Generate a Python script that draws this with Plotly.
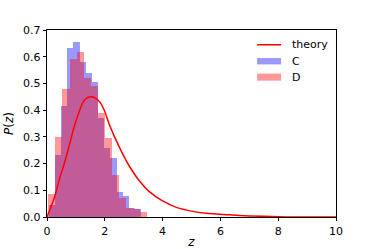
import plotly.graph_objects as go

# ---- data ----
c_edges = [0.064, 0.277, 0.490, 0.703, 0.916, 1.129, 1.342, 1.555, 1.768,
           1.981, 2.194, 2.407, 2.620, 2.833, 3.046, 3.259]
c_density = [0.045, 0.232, 0.416, 0.632, 0.654, 0.58, 0.54, 0.505, 0.37,
             0.26, 0.22, 0.095, 0.08, 0.035, 0.03]

d_edges = [0.045, 0.290, 0.535, 0.780, 1.025, 1.270, 1.515, 1.760, 2.005,
           2.250, 2.495, 2.740, 2.985, 3.230, 3.475]
d_density = [0.086, 0.30, 0.478, 0.59, 0.617, 0.52, 0.49, 0.39, 0.297,
             0.157, 0.07, 0.035, 0.03, 0.018]

theory_z = [0, 0.25, 0.45, 0.6, 0.8, 0.91, 1.1, 1.26, 1.4, 1.55, 1.7, 1.83,
            2.0, 2.16, 2.35, 2.6, 2.85, 3.2, 3.54, 4.0, 4.5, 5.0, 5.5, 6.3,
            7.0, 8.0, 8.6, 10.0]
theory_p = [0, 0.07, 0.15, 0.2, 0.28, 0.326, 0.39, 0.432, 0.447, 0.45, 0.443,
            0.43, 0.395, 0.345, 0.297, 0.24, 0.19, 0.135, 0.095, 0.06, 0.035,
            0.022, 0.014, 0.008, 0.004, 0.001, 0.0, 0.0]

x_ticks = [0, 2, 4, 6, 8, 10]
y_ticks = [0.0, 0.1, 0.2, 0.3, 0.4, 0.5, 0.6, 0.7]

FONT = "DejaVu Sans"


def centers_widths(edges):
    cs = [(a + b) / 2 for a, b in zip(edges[:-1], edges[1:])]
    ws = [b - a for a, b in zip(edges[:-1], edges[1:])]
    return cs, ws


fig = go.Figure()
cx, cw = centers_widths(c_edges)
dx, dw = centers_widths(d_edges)
fig.add_trace(go.Bar(x=cx, y=c_density, width=cw, name="C",
                     marker=dict(color="rgba(0,0,255,0.4)", line=dict(width=0)),
                     showlegend=False))
fig.add_trace(go.Bar(x=dx, y=d_density, width=dw, name="D",
                     marker=dict(color="rgba(255,0,0,0.4)", line=dict(width=0)),
                     showlegend=False))
fig.add_trace(go.Scatter(x=theory_z, y=theory_p, mode="lines", name="theory",
                         line=dict(color="red", width=1.5, shape="spline", smoothing=0.7),
                         showlegend=False))

# manual matplotlib-style legend
shapes = [
    dict(type="line", xref="paper", yref="paper", x0=0.727, x1=0.810, y0=0.921, y1=0.921,
         line=dict(color="red", width=1.5)),
    dict(type="rect", xref="paper", yref="paper", x0=0.727, x1=0.810, y0=0.816, y1=0.850,
         fillcolor="rgba(0,0,255,0.4)", line=dict(width=0)),
    dict(type="rect", xref="paper", yref="paper", x0=0.727, x1=0.810, y0=0.729, y1=0.767,
         fillcolor="rgba(255,0,0,0.4)", line=dict(width=0)),
]
annotations = [
    dict(text=t, xref="paper", yref="paper", x=0.841, y=yy, xanchor="left", yanchor="middle",
         showarrow=False, font=dict(family=FONT, size=11, color="black"))
    for t, yy in [("theory", 0.921), ("C", 0.832), ("D", 0.746)]
]

fig.update_layout(
    width=374, height=249,
    margin=dict(l=47, r=38, t=30, b=32, autoexpand=False),
    paper_bgcolor="white", plot_bgcolor="white",
    barmode="overlay", bargap=0,
    font=dict(family=FONT, size=11, color="black"),
    shapes=shapes, annotations=annotations,
    xaxis=dict(range=[0, 10], tickvals=x_ticks, ticks="outside", ticklen=3.5,
               tickwidth=0.8, tickcolor="black", showline=True, linecolor="black",
               linewidth=0.8, mirror=True, showgrid=False, zeroline=False,
               automargin=False,
               title=dict(text="<i>z</i>", font=dict(size=12), standoff=1)),
    yaxis=dict(range=[0, 0.7], tickvals=y_ticks, tickformat=".1f", ticks="outside",
               ticklen=3.5, tickwidth=0.8, tickcolor="black", showline=True,
               linecolor="black", linewidth=0.8, mirror=True, showgrid=False,
               zeroline=False, automargin=False,
               title=dict(text="<i>P</i>(<i>z</i>)", font=dict(size=12), standoff=6)),
)

fig.write_html("out.html",
               config={"displayModeBar": False},
               post_script="document.body.style.margin='0';document.body.style.overflow='hidden';")
